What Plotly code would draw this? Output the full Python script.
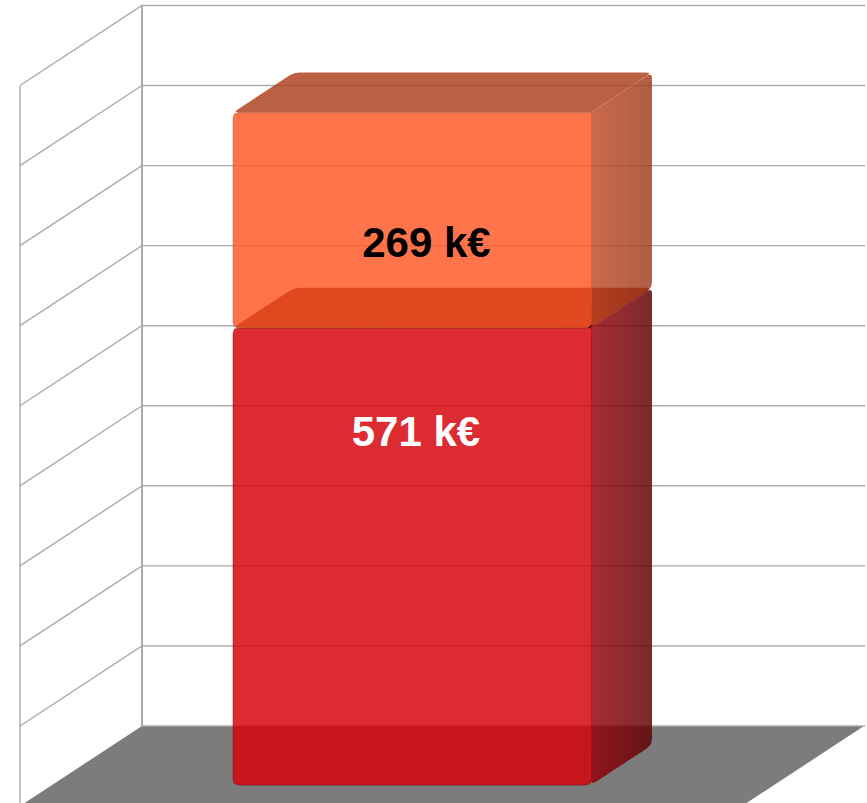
import plotly.graph_objects as go

# ---- data ----
series_names = ["Bas", "Haut"]
series_values = [571, 269]
series_labels = ["571 k€", "269 k€"]
axis_ticks = [0, 100, 200, 300, 400, 500, 600, 700, 800, 900]

# ---- projection (screen x in px, value axis scaled to px) ----
W, H = 867, 803
PX_PER_UNIT = 0.8006
BACK_FLOOR_PY = 726.0
DEPTH_DX = 122.0
DEPTH_DV = 100.0
WALL_X0, WALL_X1 = 142.0, 865.0
BAR_X0, BAR_X1 = 322.975, 680.975
BAR_D0, BAR_D1 = 0.2375, 0.7375
SEAM_OVERLAP = 0.7

def P(X, v, d):
    return (X - DEPTH_DX * d, v - DEPTH_DV * d)

def to_screen(p):
    return (p[0], p[1] * PX_PER_UNIT)

def from_screen(p):
    return (p[0], p[1] / PX_PER_UNIT)

def rounded(points, radii, n=5):
    pts = [to_screen(p) for p in points]
    out = []
    m = len(pts)
    for i, (p, r) in enumerate(zip(pts, radii)):
        if r <= 0:
            out.append(p)
            continue
        a, b = pts[i - 1], pts[(i + 1) % m]
        def toward(q):
            L = ((q[0] - p[0]) ** 2 + (q[1] - p[1]) ** 2) ** 0.5
            return (p[0] + (q[0] - p[0]) * r / L, p[1] + (q[1] - p[1]) * r / L)
        s, e = toward(a), toward(b)
        for k in range(n + 1):
            t = k / n
            out.append(((1 - t) ** 2 * s[0] + 2 * t * (1 - t) * p[0] + t * t * e[0],
                        (1 - t) ** 2 * s[1] + 2 * t * (1 - t) * p[1] + t * t * e[1]))
    return out  # screen coords

def clip(poly, axis, lim, keep_above):
    out = []
    for i in range(len(poly)):
        a, b = poly[i - 1], poly[i]
        ina = (a[axis] >= lim) == keep_above
        inb = (b[axis] >= lim) == keep_above
        if ina != inb:
            t = (lim - a[axis]) / (b[axis] - a[axis])
            out.append((a[0] + (b[0] - a[0]) * t, a[1] + (b[1] - a[1]) * t))
        if inb:
            out.append(b)
    return out

fig = go.Figure()

def fill(poly, color):
    pts = [from_screen(p) for p in poly]
    if not pts:
        return
    xs = [p[0] for p in pts] + [pts[0][0]]
    ys = [p[1] for p in pts] + [pts[0][1]]
    fig.add_trace(go.Scatter(x=xs, y=ys, mode="lines", fill="toself", fillcolor=color,
                             line=dict(width=0, color="rgba(0,0,0,0)"),
                             hoverinfo="skip", showlegend=False))

def seg(pts, width=1.0, color="#ababab"):
    fig.add_trace(go.Scatter(x=[p[0] for p in pts], y=[p[1] for p in pts], mode="lines",
                             line=dict(color=color, width=width), hoverinfo="skip", showlegend=False))

def lerp(c0, c1, t):
    return tuple(round(a + (b - a) * t) for a, b in zip(c0, c1))

def rgba(c, a):
    return f"rgba({c[0]},{c[1]},{c[2]},{a})"

# ---- floor and walls ----
fill([to_screen(p) for p in [P(WALL_X0, 0, 0), P(WALL_X1 - 1, 0, 0), P(WALL_X1 - 1, 0, 1), P(WALL_X0, 0, 1)]], "#7c7c7c")
vmax = axis_ticks[-1]
for t in axis_ticks:
    seg([P(WALL_X0, t, 0), P(WALL_X1, t, 0)], 1.4)
    if t > 0:
        seg([P(WALL_X0, t, 0), P(WALL_X0, t, 1)], 1.4)
seg([P(WALL_X0, 0, 0), P(WALL_X0, vmax, 0)], 2)
seg([P(WALL_X0, -100, 1), P(WALL_X0, vmax, 1)], 1.4)

# ---- bars ----
ALPHA = 0.83
styles = [
    dict(front=(214, 0, 8), side0=(148, 0, 8), side1=(96, 0, 4), top=(214, 0, 8),
         under_front=(75, 0, 0), under_side=(130, 0, 0), edge="rgba(110,0,10,0.35)"),
    dict(front=(255, 88, 38), side0=(190, 75, 38), side1=(158, 62, 32), top=(172, 65, 30),
         under_front=None, under_side=None, edge="rgba(120,70,50,0.30)"),
]
R = 6
base = 0
for value, st in zip(series_values, styles):
    top = base + value
    fl, fr = BAR_X0, BAR_X1
    ftl, ftr = P(fl, top, BAR_D1), P(fr, top, BAR_D1)
    fbl, fbr = P(fl, base, BAR_D1), P(fr, base, BAR_D1)
    btl, btr = P(fl, top, BAR_D0), P(fr, top, BAR_D0)
    bbr = P(fr, base, BAR_D0)

    # top face
    top_poly = rounded([ftl, btl, btr, ftr], [R, R, R, 0])
    x_a, x_b = round(to_screen(ftr)[0]), round(to_screen(btr)[0])
    if st["under_front"]:
        fill(clip(top_poly, 0, x_a, False), rgba(st["under_front"], 1))
        fill(clip(top_poly, 0, x_a, True), rgba(st["under_side"], 1))
    else:
        fill(top_poly, rgba(st["top"], ALPHA))

    # side face, shaded in vertical strips
    side_poly = rounded([ftr, btr, bbr, fbr], [0, R, R, R])
    ns = 10
    edges = [round(x_a + (x_b - x_a) * i / ns) for i in range(ns + 1)]
    for i in range(ns):
        c = lerp(st["side0"], st["side1"], i / (ns - 1))
        strip = clip(clip(side_poly, 0, edges[i], True), 0, edges[i + 1], False)
        fill(strip, rgba(c, ALPHA))

    # front face (slightly over the side so no light seam shows) and its soft edge
    ftr2, fbr2 = P(fr + SEAM_OVERLAP, top, BAR_D1), P(fr + SEAM_OVERLAP, base, BAR_D1)
    fill(rounded([fbl, ftl, ftr2, fbr2], [R, R, 0, R]), rgba(st["front"], ALPHA))
    seg([from_screen(p) for p in rounded([fbr, fbl, ftl, ftr], [R, R, R, 0])], 1.2, st["edge"])
    base = top

# ---- labels (manually placed in the original) ----
label_positions = [(416, (BACK_FLOOR_PY - 435) / PX_PER_UNIT), (426.5, (BACK_FLOOR_PY - 246) / PX_PER_UNIT)]
label_colors = ["#ffffff", "#000000"]
for (x, y), text, c in zip(label_positions, series_labels, label_colors):
    fig.add_trace(go.Scatter(x=[x], y=[y], mode="text", text=[text],
                             textposition="middle center",
                             textfont=dict(family="Liberation Sans", size=42, color=c, weight="bold"),
                             hoverinfo="skip", showlegend=False))

fig.update_layout(
    width=W, height=H, margin=dict(l=0, r=0, t=0, b=0),
    paper_bgcolor="white", plot_bgcolor="white", showlegend=False,
    xaxis=dict(range=[0, W], visible=False, fixedrange=True),
    yaxis=dict(range=[(BACK_FLOOR_PY - H) / PX_PER_UNIT, BACK_FLOOR_PY / PX_PER_UNIT], visible=False, fixedrange=True),
)
fig.write_html("out.html", config={"displayModeBar": False},
               post_script="document.body.style.margin='0';document.body.style.overflow='hidden';")
